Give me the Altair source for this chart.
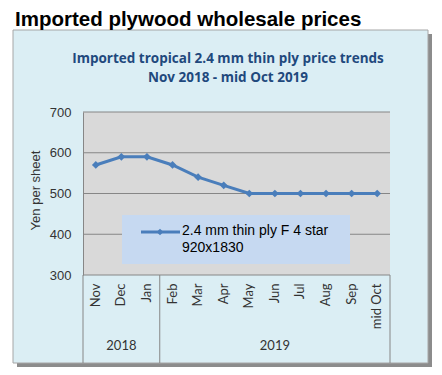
import altair as alt
import pandas as pd

# ---- data ----
months = ["Nov", "Dec", "Jan", "Feb", "Mar", "Apr", "May", "Jun", "Jul", "Aug", "Sep", "mid Oct"]
prices = [570, 590, 590, 570, 540, 520, 500, 500, 500, 500, 500, 500]
years = ["2018", "2019"]
year_first_month = ["Nov", "Feb"]
year_mid_month = ["Dec", "Jun"]
last_month = ["mid Oct"]
y_ticks = [300, 400, 500, 600, 700]

title_text = "Imported plywood wholesale prices"
subtitle_lines = ["Imported tropical 2.4 mm thin ply price trends", "Nov 2018 - mid Oct 2019"]
y_title = "Yen per sheet"
legend_lines = ["2.4 mm thin ply F 4 star", "920x1830"]

df = pd.DataFrame({"month": months, "price": prices})
years_df = pd.DataFrame({"year": years, "first": year_first_month, "mid": year_mid_month})
end_df = pd.DataFrame({"end": last_month})
grid_df = pd.DataFrame({"v": y_ticks})
one = pd.DataFrame({"k": [0]})

W, H = 307, 163
LINE_COLOR = "#4A7EBB"
GRID = "#868686"
TXT = "#333333"

xscale = alt.Scale(type="band", domain=months, paddingInner=0, paddingOuter=0)
yscale = alt.Scale(domain=[300, 700], nice=False, zero=False)

x_axis = alt.Axis(title=None, labelAngle=270, labelFont="Lato", labelFontSize=13,
                  labelColor=TXT, labelPadding=8, ticks=False, domain=False,
                  grid=False, zindex=1, labelAlign="right", labelBaseline="middle")
y_axis = alt.Axis(title=y_title, titleFont="Liberation Sans", titleFontSize=13,
                  titleFontWeight="normal", titleColor=TXT, titleAngle=270,
                  titleX=-48, titleY=78, titleAlign="center", titleBaseline="middle",
                  labelFont="Liberation Sans", labelFontSize=13, labelColor=TXT,
                  labelPadding=12, ticks=False, domain=True, domainColor=GRID,
                  grid=False, values=y_ticks, zindex=1)

base1 = alt.Chart(one)

shadow = base1.mark_rect(fill="#8C8C8C").encode(
    x=alt.value(-66), x2=alt.value(349), y=alt.value(-78), y2=alt.value(255))
box = base1.mark_rect(fill="#DBEEF4", stroke="#A6A6A6", strokeWidth=1).encode(
    x=alt.value(-70), x2=alt.value(345), y=alt.value(-82), y2=alt.value(251))
plot_bg = base1.mark_rect(fill="#D9D9D9").encode(
    x=alt.value(0), x2=alt.value(W), y=alt.value(0), y2=alt.value(H))

title = base1.mark_text(text=title_text, font="Liberation Sans", fontSize=20.5,
                        fontWeight="bold", color="#000000", align="left",
                        baseline="alphabetic").encode(x=alt.value(-68), y=alt.value(-86.5))
sub1 = base1.mark_text(text=subtitle_lines[0], font="Open Sans", fontSize=13.5, fontWeight="bold",
                       color="#1F497D", align="center", baseline="middle").encode(
    x=alt.value(145), y=alt.value(-53))
sub2 = base1.mark_text(text=subtitle_lines[1], font="Open Sans", fontSize=13.5, fontWeight="bold",
                       color="#1F497D", align="center", baseline="middle").encode(
    x=alt.value(145), y=alt.value(-34))

grid = alt.Chart(grid_df).mark_rule(color=GRID, strokeWidth=1).encode(
    y=alt.Y("v:Q", scale=yscale, axis=y_axis),
    x=alt.value(0), x2=alt.value(W))

bounds = alt.Chart(years_df).mark_rule(color=GRID, strokeWidth=1).encode(
    x=alt.X("first:N", scale=xscale, axis=x_axis, bandPosition=0),
    y=alt.value(H), y2=alt.value(251))
end_bound = alt.Chart(end_df).mark_rule(color=GRID, strokeWidth=1).encode(
    x=alt.X("end:N", scale=xscale, axis=x_axis, bandPosition=1),
    y=alt.value(H), y2=alt.value(251))
year_text = alt.Chart(years_df).mark_text(font="Lato", fontSize=13, color=TXT,
                                          baseline="middle", align="center").encode(
    x=alt.X("mid:N", scale=xscale, axis=x_axis, bandPosition=0.5),
    y=alt.value(234), text="year:N")

leg_box = base1.mark_rect(fill="#C6D9F1").encode(
    x=alt.value(39), x2=alt.value(267), y=alt.value(103), y2=alt.value(152))
leg_line = base1.mark_rule(color=LINE_COLOR, strokeWidth=3).encode(
    x=alt.value(58), x2=alt.value(97), y=alt.value(120))
leg_pt = base1.mark_point(shape="diamond", filled=True, size=45, color=LINE_COLOR,
                          opacity=1).encode(x=alt.value(77), y=alt.value(120))
leg_t1 = base1.mark_text(text=legend_lines[0], font="Liberation Sans", fontSize=14,
                         color="#000000", align="left", baseline="middle").encode(
    x=alt.value(99), y=alt.value(118.5))
leg_t2 = base1.mark_text(text=legend_lines[1], font="Liberation Sans", fontSize=14,
                         color="#000000", align="left", baseline="middle").encode(
    x=alt.value(99), y=alt.value(136))

line = alt.Chart(df).mark_line(color=LINE_COLOR, strokeWidth=3).encode(
    x=alt.X("month:N", scale=xscale, axis=x_axis, bandPosition=0.5, sort=months),
    y=alt.Y("price:Q", scale=yscale, axis=y_axis))
pts = alt.Chart(df).mark_point(shape="diamond", filled=True, size=60, color=LINE_COLOR,
                               opacity=1).encode(
    x=alt.X("month:N", scale=xscale, axis=x_axis, bandPosition=0.5, sort=months),
    y=alt.Y("price:Q", scale=yscale, axis=y_axis))

chart = alt.layer(
    shadow, box, title, sub1, sub2, plot_bg, grid, bounds, end_bound, year_text,
    leg_box, leg_line, leg_pt, leg_t1, leg_t2, line, pts
).properties(
    width=W, height=H,
    autosize=alt.AutoSizeParams(type="none"),
    padding={"left": 75, "top": 104, "right": 44, "bottom": 92},
    background="white",
).configure_view(stroke=None)

chart.save("out.html", embed_options={"renderer": "svg", "actions": False})
